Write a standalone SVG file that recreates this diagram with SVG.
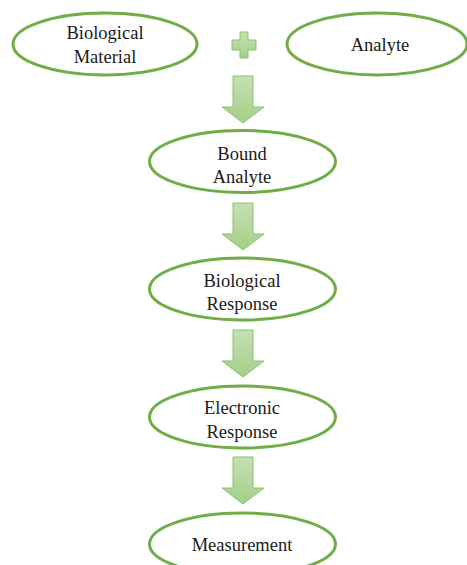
<svg xmlns="http://www.w3.org/2000/svg" width="467" height="565" viewBox="0 0 467 565" font-family="'Liberation Serif', 'DejaVu Serif', serif">
<defs>
<linearGradient id="ag" x1="0" y1="0" x2="0" y2="1">
<stop offset="0" stop-color="#c5e0b4"/>
<stop offset="1" stop-color="#a3cf87"/>
</linearGradient>
<style>
.n ellipse{fill:#fff;stroke:#70ad47;stroke-width:3}
.n text{font-family:'Liberation Serif','DejaVu Serif',serif;font-size:18.5px;fill:#1a1a1a;text-anchor:middle}
.a{fill:url(#ag);stroke:#8cc169;stroke-width:1}
</style>
<path id="arr" d="M-10,0 H10 V31 H21 L0,47 L-21,31 H-10 Z"/>
</defs>
<rect width="467" height="565" fill="#fff"/>
<g id="connectors">
<path class="a" d="M232,40 H240 V32 H248 V40 H256 V50 H248 V58 H240 V50 H232 Z"/>
<use href="#arr" class="a" x="243" y="76"/>
<use href="#arr" class="a" x="243" y="203"/>
<use href="#arr" class="a" x="243" y="330"/>
<use href="#arr" class="a" x="243" y="457"/>
</g>
<g id="biological-material" class="n">
<ellipse cx="105" cy="44" rx="92" ry="31"/>
<text x="105" y="39">Biological</text>
<text x="105" y="63">Material</text>
</g>
<g id="analyte" class="n">
<ellipse cx="377" cy="44" rx="90" ry="31"/>
<text x="380" y="51">Analyte</text>
</g>
<g id="bound-analyte" class="n">
<ellipse cx="242.5" cy="161.5" rx="93" ry="31"/>
<text x="242" y="160">Bound</text>
<text x="242" y="183">Analyte</text>
</g>
<g id="biological-response" class="n">
<ellipse cx="242.5" cy="289" rx="93" ry="31"/>
<text x="242" y="287">Biological</text>
<text x="242" y="310">Response</text>
</g>
<g id="electronic-response" class="n">
<ellipse cx="242.5" cy="417" rx="93" ry="31"/>
<text x="242" y="414">Electronic</text>
<text x="242" y="438">Response</text>
</g>
<g id="measurement" class="n">
<ellipse cx="242.5" cy="544" rx="93" ry="31"/>
<text x="242" y="551">Measurement</text>
</g>
</svg>
